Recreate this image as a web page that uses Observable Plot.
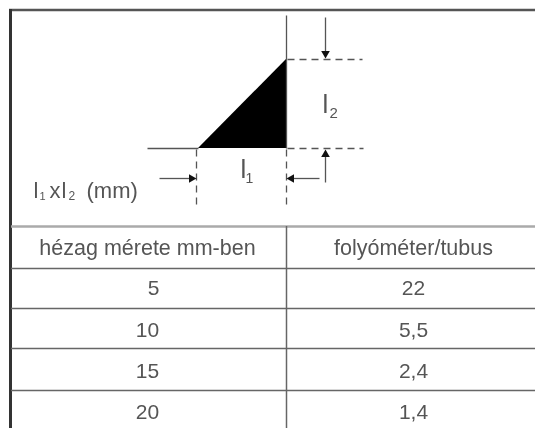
<!DOCTYPE html>
<html><head><meta charset="utf-8">
<script src="https://cdn.jsdelivr.net/npm/d3@7"></script>
<script src="https://cdn.jsdelivr.net/npm/@observablehq/plot@0.6"></script>
<style>html,body{margin:0;padding:0;background:#fff;overflow:hidden}svg{display:block;filter:blur(0.7px)}</style>
</head><body><script>
const headers = ["hézag mérete mm-ben", "folyóméter/tubus"];
const gapSizes = ["5", "10", "15", "20"];
const metersPerTube = ["22", "5,5", "2,4", "1,4"];
const headerY = 248;
const rowY = [288, 330, 371, 412];
const gapX = [153, 147, 147, 147];
const rowRules = [268, 308, 348, 390];
const wedge = [{x: 198, y1: 148, y2: 148}, {x: 286, y1: 148, y2: 59}];
const solidLines = [
  {x1: 286, y1: 15, x2: 286, y2: 148}, {x1: 147, y1: 148, x2: 198, y2: 148},
  {x1: 325, y1: 17, x2: 325, y2: 52}, {x1: 325, y1: 182, x2: 325, y2: 155},
  {x1: 159, y1: 178, x2: 190, y2: 178}, {x1: 319, y1: 178, x2: 292, y2: 178}
];
const dashedLines = [
  {x1: 287, y1: 59, x2: 362, y2: 59}, {x1: 287, y1: 148, x2: 363, y2: 148},
  {x1: 196, y1: 149, x2: 196, y2: 207}, {x1: 286, y1: 149, x2: 286, y2: 207}
];
const heads = [
  {x: 325, y: 53, rotate: 180}, {x: 325, y: 154, rotate: 0},
  {x: 191, y: 178, rotate: 90}, {x: 291, y: 178, rotate: -90}
];
const labels = [
  {x: 322, y: 104, t: "l", s: 26}, {x: 240, y: 169, t: "l", s: 26},
  {x: 33, y: 190, t: "l", s: 22}, {x: 49, y: 190, t: "x", s: 22}, {x: 61, y: 190, t: "l", s: 22},
  {x: 86, y: 190, t: "(mm)", s: 22}
];
const subs = [
  {x: 329, y: 113, t: "2", s: 15}, {x: 245, y: 178, t: "1", s: 14},
  {x: 39, y: 196, t: "1", s: 11}, {x: 68, y: 196, t: "2", s: 12}
];
const ink = "#555";
const line = "#666";
const font = "Liberation Sans";
const chart = Plot.plot({
  width: 535, height: 428, margin: 0,
  x: {domain: [0, 535], range: [0, 535], axis: null},
  y: {domain: [0, 428], range: [0, 428], axis: null},
  marks: [
    Plot.ruleY([9.5], {x1: 9, x2: 535, stroke: "#555", strokeWidth: 2.5}),
    Plot.ruleX([10], {y1: 9, y2: 428, stroke: "#333", strokeWidth: 3}),
    Plot.ruleY([226], {x1: 11, x2: 535, stroke: "#aaa", strokeWidth: 2.5}),
    Plot.ruleY(rowRules, {x1: 11, x2: 535, stroke: line, strokeWidth: 1.3}),
    Plot.ruleX([286], {y1: 226, y2: 428, stroke: line, strokeWidth: 1.5}),
    Plot.areaY(wedge, {x: "x", y1: "y1", y2: "y2", fill: "#000"}),
    Plot.link(solidLines, {x1: "x1", y1: "y1", x2: "x2", y2: "y2", stroke: "#555", strokeWidth: 1.3}),
    Plot.link(dashedLines, {x1: "x1", y1: "y1", x2: "x2", y2: "y2", stroke: "#555", strokeWidth: 1.3, strokeDasharray: "7 5"}),
    Plot.dot(heads, {x: "x", y: "y", rotate: "rotate", symbol: "triangle", r: 3.2, fill: "#111", stroke: "none"}),
    Plot.text(labels, {x: "x", y: "y", text: "t", fontSize: "s", textAnchor: "start", fill: ink, fontFamily: font}),
    Plot.text(subs, {x: "x", y: "y", text: "t", fontSize: "s", textAnchor: "start", fill: ink, fontFamily: font}),
    Plot.text(headers, {x: [147, 413], y: [headerY, headerY], text: d => d, fontSize: 21.5, fill: ink, fontFamily: font}),
    Plot.text(gapSizes, {x: gapX, y: rowY, text: d => d, fontSize: 21, fill: ink, fontFamily: font}),
    Plot.text(metersPerTube, {x: [413, 413, 413, 413], y: rowY, text: d => d, fontSize: 21, fill: ink, fontFamily: font})
  ]
});
document.body.append(chart);
</script></body></html>
